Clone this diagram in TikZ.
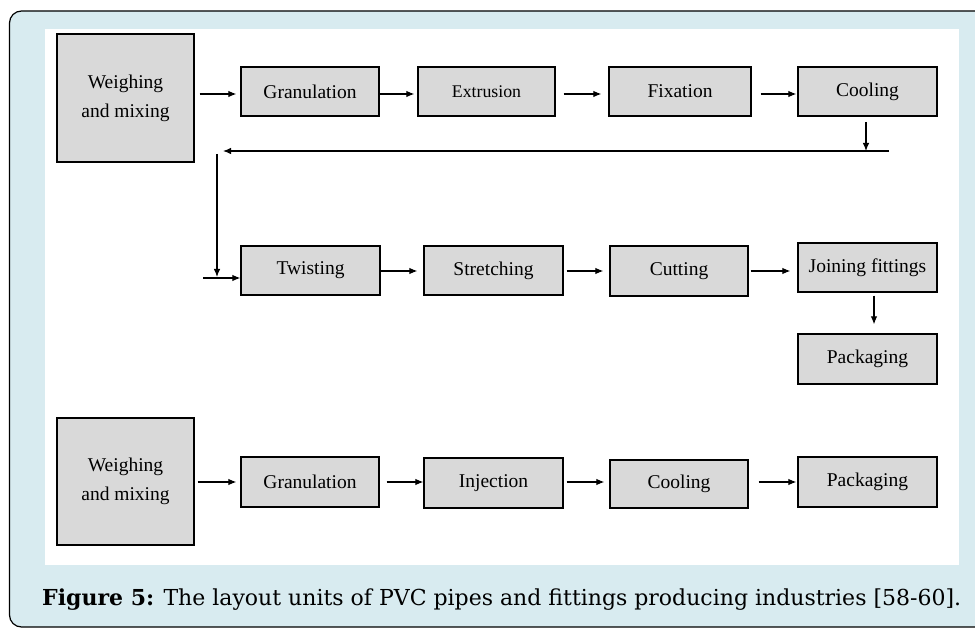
\documentclass[tikz,border=0pt]{standalone}
\usepackage{fontspec}
\setmainfont{Liberation Serif}
\newfontfamily\captionserif{DejaVu Serif}
\usetikzlibrary{arrows.meta}

\definecolor{panelblue}{HTML}{D8EBF0}
\definecolor{boxgray}{HTML}{D9D9D9}

\tikzset{
  stepbox/.style={draw=black, fill=boxgray, line width=1.3pt, inner sep=0pt,
    minimum width=138pt, minimum height=49pt, align=center,
    font=\fontsize{19.5}{29}\selectfont},
  bigbox/.style={stepbox, minimum width=137pt, minimum height=128pt},
  flow/.style={draw=black, line width=1.1pt, -{Latex[length=8pt,width=6.5pt]}}
}

\begin{document}
\begin{tikzpicture}[x=1pt,y=-1pt]
\useasboundingbox (0,0) rectangle (975,628);
\clip (0,0) rectangle (975,628);

% frame and white drawing panel
\draw[line width=1.2pt, fill=panelblue, rounded corners=12pt] (9.5,11) rectangle (1000,627);
\fill[white] (45,29) rectangle (959,565);

% heights of the arrow rows
\coordinate (rowA) at (0,94);
\coordinate (rowB) at (0,271);
\coordinate (rowC) at (0,482);

% first line: pipes
\node[bigbox] (w1) at (125.5,98) {Weighing\\and mixing};
\node[stepbox] (g1) at (310,91.5) {Granulation};
\node[stepbox, minimum width=137pt, font=\fontsize{17.8}{20}\selectfont] (ext) at (486.5,91.5) {Extrusion};
\node[stepbox, minimum width=142pt] (fix) at (680,91.5) {Fixation};
\node[stepbox, minimum width=139pt] (cool1) at (867.5,91.5) {Cooling};

\draw[flow] ([xshift=5pt]w1.east |- rowA) -- ([xshift=-4pt]g1.west |- rowA);
\draw[flow] (g1.east |- rowA) -- ([xshift=-3pt]ext.west |- rowA);
\draw[flow] ([xshift=8pt]ext.east |- rowA) -- ([xshift=-7pt]fix.west |- rowA);
\draw[flow] ([xshift=9pt]fix.east |- rowA) -- ([xshift=-1pt]cool1.west |- rowA);

% return line to the second row
\coordinate (dtop) at (866,122);
\coordinate (drop) at (866,151);
\coordinate (rstart) at (889,151);
\coordinate (rend) at (223,151);
\coordinate (vtop) at (217,154);
\coordinate (vbot) at (217,277);
\coordinate (tin) at (203,278);
\draw[flow] (dtop) -- (drop);
\draw[flow] (rstart) -- (rend);
\draw[flow] (vtop) -- (vbot);

% second line
\node[stepbox, minimum width=139pt] (tw) at (310.5,270.5) {Twisting};
\node[stepbox, minimum width=139pt] (st) at (493.5,270.5) {Stretching};
\node[stepbox, minimum height=50pt] (cut) at (679,271) {Cutting};
\node[stepbox, minimum width=139pt] (join) at (867.5,267.5) {Joining fittings};
\node[stepbox, minimum width=139pt, minimum height=50pt] (pack1) at (867.5,359) {Packaging};

\draw[flow] (tin) -- (tw.west |- tin);
\draw[flow] (tw.east |- rowB) -- ([xshift=-6pt]st.west |- rowB);
\draw[flow] ([xshift=3pt]st.east |- rowB) -- ([xshift=-6pt]cut.west |- rowB);
\draw[flow] ([xshift=2pt]cut.east |- rowB) -- ([xshift=-7pt]join.west |- rowB);
\draw[flow] ([shift={(6.5pt,-3pt)}]join.south) -- ([shift={(6.5pt,9pt)}]pack1.north);

% third line: fittings
\node[bigbox, minimum height=127pt] (w2) at (125.5,481.5) {Weighing\\and mixing};
\node[stepbox, minimum height=50pt] (g2) at (310,482) {Granulation};
\node[stepbox, minimum width=139pt, minimum height=50pt] (inj) at (493.5,483) {Injection};
\node[stepbox, minimum height=48pt] (cool2) at (679,484) {Cooling};
\node[stepbox, minimum width=139pt, minimum height=50pt] (pack2) at (867.5,482) {Packaging};

\draw[flow] ([xshift=3pt]w2.east |- rowC) -- ([xshift=-4pt]g2.west |- rowC);
\draw[flow] ([xshift=7pt]g2.east |- rowC) -- (inj.west |- rowC);
\draw[flow] ([xshift=3pt]inj.east |- rowC) -- ([xshift=-5pt]cool2.west |- rowC);
\draw[flow] ([xshift=10pt]cool2.east |- rowC) -- ([xshift=-1pt]pack2.west |- rowC);

% caption
\node[anchor=west, inner sep=0pt, font=\captionserif\fontsize{22}{26}\selectfont] (cap) at (42,600)
  {\textbf{Figure 5:} The layout units of PVC pipes and fittings producing industries [58-60].};
\end{tikzpicture}
\end{document}
